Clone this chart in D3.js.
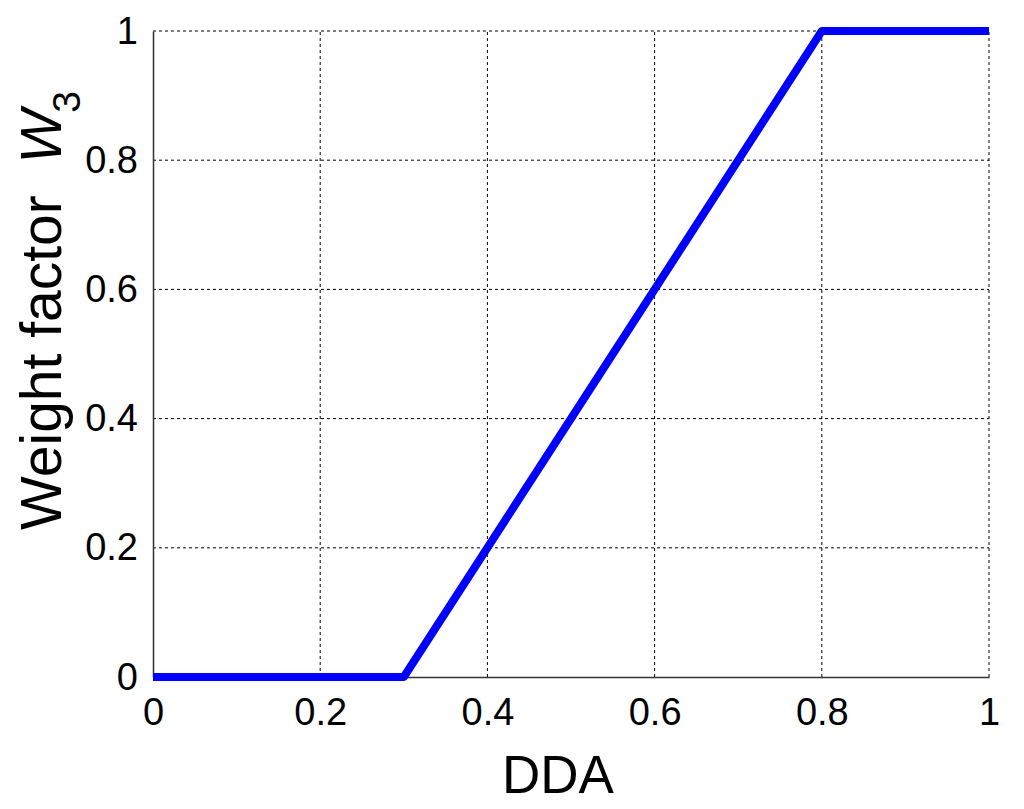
<!DOCTYPE html>
<html><head><meta charset="utf-8">
<script src="https://cdn.jsdelivr.net/npm/d3@7"></script>
<style>body{margin:0;background:#fff}svg{display:block}text{font-family:Arial,"Liberation Sans",sans-serif}</style>
</head><body>
<svg id="c" width="1024" height="809"></svg>
<script>
const xData = [0, 0.3, 0.8, 1];
const yData = [0, 0, 1, 1];
const xTicks = [0, 0.2, 0.4, 0.6, 0.8, 1];
const yTicks = [0, 0.2, 0.4, 0.6, 0.8, 1];
const xTickLabels = ["0", "0.2", "0.4", "0.6", "0.8", "1"];
const yTickLabels = ["0", "0.2", "0.4", "0.6", "0.8", "1"];

const svg = d3.select("#c");
const L = 153, R = 989, T = 31, B = 677;
const x = d3.scaleLinear().domain([0, 1]).range([L, R]);
const y = d3.scaleLinear().domain([0, 1]).range([B, T]);

// grid
const g = svg.append("g");
g.selectAll(".vg").data(xTicks.slice(1)).enter().append("line")
  .attr("x1", d => x(d)).attr("x2", d => x(d)).attr("y1", B).attr("y2", T)
  .attr("stroke", "#000").attr("stroke-width", 1).attr("stroke-dasharray", "3,3");
g.selectAll(".hg").data(yTicks.slice(1)).enter().append("line")
  .attr("y1", d => y(d)).attr("y2", d => y(d)).attr("x1", L).attr("x2", R)
  .attr("stroke", "#000").attr("stroke-width", 1).attr("stroke-dasharray", "3,3");

// axes
const xAxis = d3.axisBottom(x).tickValues(xTicks).tickFormat((d, i) => xTickLabels[i]).tickSize(0).tickPadding(21);
const yAxis = d3.axisLeft(y).tickValues(yTicks).tickFormat((d, i) => yTickLabels[i]).tickSize(0).tickPadding(15);
const xa = svg.append("g").attr("transform", `translate(0,${B})`).call(xAxis);
const ya = svg.append("g").attr("transform", `translate(${L},0)`).call(yAxis);
[xa, ya].forEach(a => {
  a.select(".domain").attr("stroke", "#333").attr("stroke-width", 1.5);
  a.selectAll("text").attr("font-size", 38).attr("fill", "#000").attr("font-family", "Arial, 'Liberation Sans', sans-serif");
});

// data line
const line = d3.line().x((d, i) => x(xData[i])).y((d, i) => y(yData[i]));
svg.append("path").datum(xData).attr("d", line)
  .attr("fill", "none").attr("stroke", "#0000ff").attr("stroke-width", 8).attr("stroke-linejoin", "round");

// labels
svg.append("text").attr("x", 558).attr("y", 793).attr("text-anchor", "middle")
  .attr("font-size", 53).attr("fill", "#000").text("DDA");
const yl = svg.append("text").attr("transform", `translate(61,530) rotate(-90)`)
  .attr("text-anchor", "start").attr("font-size", 57).attr("fill", "#000")
  .attr("xml:space", "preserve").style("white-space", "pre");
yl.append("tspan").text("Weight factor  ");
yl.append("tspan").attr("font-style", "italic").text("W");
yl.append("tspan").attr("font-size", 39).attr("dy", 19).attr("dx", -3).text("3");
</script>
</body></html>
